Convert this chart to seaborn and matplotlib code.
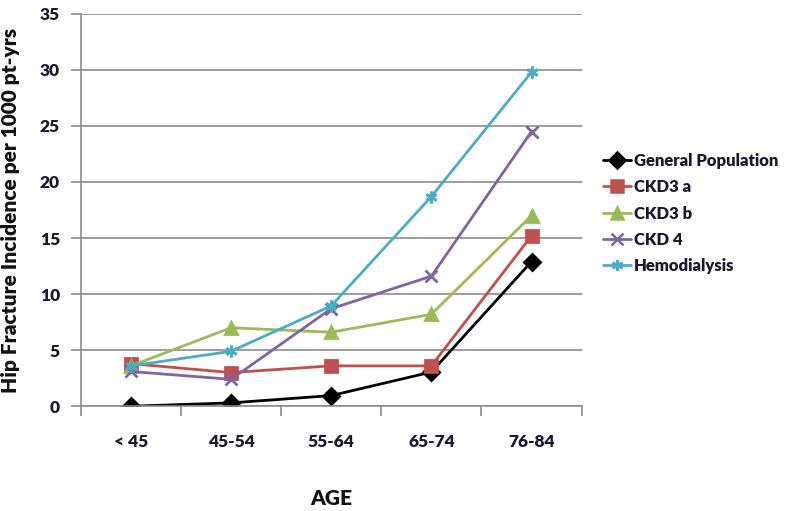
import numpy as np
import pandas as pd
import matplotlib
matplotlib.use("Agg")
import matplotlib.pyplot as plt
import seaborn as sns

ages = ["< 45", "45-54", "55-64", "65-74", "76-84"]
general = [0.0, 0.3, 0.95, 3.05, 12.9]
ckd3a = [3.8, 3.0, 3.6, 3.6, 15.2]
ckd3b = [3.6, 7.0, 6.6, 8.2, 17.0]
ckd4 = [3.1, 2.4, 8.7, 11.6, 24.5]
hemo = [3.6, 4.9, 8.95, 18.7, 29.8]

series = ["General Population", "CKD3 a", "CKD3 b", "CKD 4", "Hemodialysis"]
colors = ["#000000", "#C0504D", "#9BBB59", "#8064A2", "#4BACC6"]
markers = ["D", "s", "^", "x", (6, 2, 0)]

sns.set_style("white")
plt.rcParams['font.family'] = ['Lato', 'DejaVu Sans']

fig = plt.figure(figsize=(8, 5.11), dpi=100)
ax = fig.add_axes([0.101, 0.205, 0.626, 0.768])

ax.set_axisbelow(True)
ax.yaxis.grid(True, color="#8c8c8c", linewidth=1.2)
ax.xaxis.grid(False)

for name, vals, c, m in zip(series, [general, ckd3a, ckd3b, ckd4, hemo], colors, markers):
    d = pd.DataFrame({"age": ages, "value": vals})
    sns.lineplot(data=d, x="age", y="value", color=c, marker=m, linewidth=2,
                 markersize=8.5, markeredgewidth=2, markeredgecolor=c, markerfacecolor=c,
                 sort=False, label=name, legend=False, ax=ax)

ax.set_xlim(-0.5, 4.5)
ax.set_ylim(0, 35)
ax.set_yticks(np.arange(0, 36, 5))
ax.set_xticks(range(len(ages)))
ax.set_xticklabels(ages)
ax.set_xticks(np.arange(-0.5, 4.6, 1), minor=True)
ax.tick_params(axis="x", which="major", length=0, pad=20, labelsize=12.5, labelcolor="#1a1a2e")
ax.tick_params(axis="x", which="minor", bottom=True, length=7, color="#8c8c8c", width=1.2, direction="out")
ax.tick_params(axis="y", left=True, length=7, color="#8c8c8c", width=1.2, labelsize=12.5,
               labelcolor="#1a1a2e", pad=8)
for lab in ax.get_xticklabels() + ax.get_yticklabels():
    lab.set_fontweight("heavy")

for s in ["top", "right"]:
    ax.spines[s].set_visible(False)
for s in ["left", "bottom"]:
    ax.spines[s].set_color("#8c8c8c")
    ax.spines[s].set_linewidth(1.2)

ax.set_xlabel("AGE", fontsize=15, fontweight="heavy", labelpad=28, color="#111111")
ax.set_ylabel("Hip Fracture Incidence per 1000 pt-yrs", fontsize=15, fontweight="heavy",
              labelpad=14, color="#111111")

handles = [plt.Line2D([], [], color=c, marker=m, linewidth=2, markersize=8,
                      markeredgewidth=1.8, markerfacecolor=c, markeredgecolor=c)
           for c, m in zip(colors, markers)]
leg = fig.legend(handles, series, loc="upper left", bbox_to_anchor=(0.735, 0.73),
                 frameon=False, handlelength=1.7, handletextpad=0.15, labelspacing=0.62,
                 prop={"size": 12, "weight": "heavy"})
for t in leg.get_texts():
    t.set_color("#1a1a2e")

fig.savefig("out.png", dpi=100)
